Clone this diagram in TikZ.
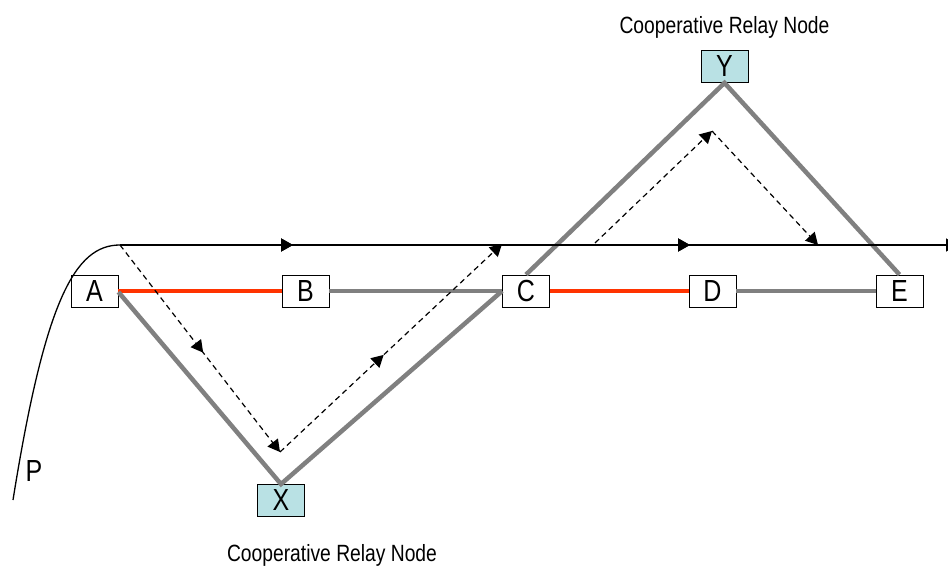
\documentclass[tikz,border=0pt]{standalone}
\usepackage{fontspec}
\setmainfont{Liberation Sans}[FakeStretch=0.82]
\usetikzlibrary{arrows.meta,decorations.markings}
\definecolor{linkgray}{RGB}{128,128,128}
\definecolor{linkred}{RGB}{255,51,0}
\definecolor{relayfill}{RGB}{185,225,228}
\tikzset{
  hop/.style={draw=black, line width=0.8pt, fill=white, minimum width=47pt,
    minimum height=32pt, inner sep=0pt, font=\fontsize{30.5}{31}\selectfont},
  relay/.style={hop, fill=relayfill},
  caption/.style={font=\fontsize{23.5}{25}\selectfont, inner sep=0pt},
  graylink/.style={draw=linkgray, line width=4.5pt},
  redlink/.style={draw=linkred, line width=4.5pt},
  tip/.style={-{Triangle[length=12pt,width=13pt]}},
  midtip/.style={postaction={decorate}, decoration={markings,
    mark=at position #1 with {\arrow{Triangle[length=12pt,width=13pt]}}}},
  route/.style={draw=black, line width=1.3pt},
  detour/.style={draw=black, line width=1.2pt, dash pattern=on 5.5pt off 4pt},
}
\begin{document}
\begin{tikzpicture}[x=1pt, y=-1pt]
  \clip (0,0) rectangle (948,569);
  \fill[white] (0,0) rectangle (948,569);

  % hop nodes on the main path
  \node[hop] (A) at (94.5,291) {A};
  \node[hop] (B) at (305.5,291) {B};
  \node[hop] (C) at (526,291) {C};
  \node[hop] (D) at (712.5,291) {D};
  \node[hop] (E) at (899.5,291) {E};
  % cooperative relays
  \node[relay] (X) at (281,500.5) {X};
  \node[relay] (Y) at (724.5,66.5) {Y};
  \node[caption] (ylab) at (724.5,27) {Cooperative Relay Node};
  \node[caption] (xlab) at (332,555) {Cooperative Relay Node};
  \node[font=\fontsize{30.5}{31}\selectfont, inner sep=0pt] (P) at (34,471) {P};

  % links
  \draw[redlink] (A.east) -- (B.west);
  \draw[redlink] (C.east) -- (D.west);
  \draw[graylink] (B.east) -- (C.west);
  \draw[graylink] (D.east) -- (E.west);
  \draw[graylink] ([yshift=-1pt]A.east) -- (X.north) -- (C.west);
  \draw[graylink] (C.north) -- (Y.south) -- (E.north);

  % route trajectory
  \coordinate (p0) at (13,500);
  \coordinate (s) at (120,245);
  \coordinate (end) at (958,245);
  \draw[route] (p0) .. controls (45,300) and (75,245) .. (s);
  \draw[route, tip, midtip=173pt, midtip=570pt] (s) -- (end);

  % detours through the relays
  \coordinate (v1) at (280,452);
  \coordinate (v2) at (502,244);
  \coordinate (w0) at (595,243);
  \coordinate (w1) at (712,131);
  \coordinate (w2) at (818,245);
  \draw[detour, tip, midtip=136pt] (s) -- (v1);
  \draw[detour, tip, midtip=142pt] (v1) -- (v2);
  \draw[detour, tip] (w0) -- (w1);
  \draw[detour, tip] (w1) -- (w2);
\end{tikzpicture}
\end{document}
